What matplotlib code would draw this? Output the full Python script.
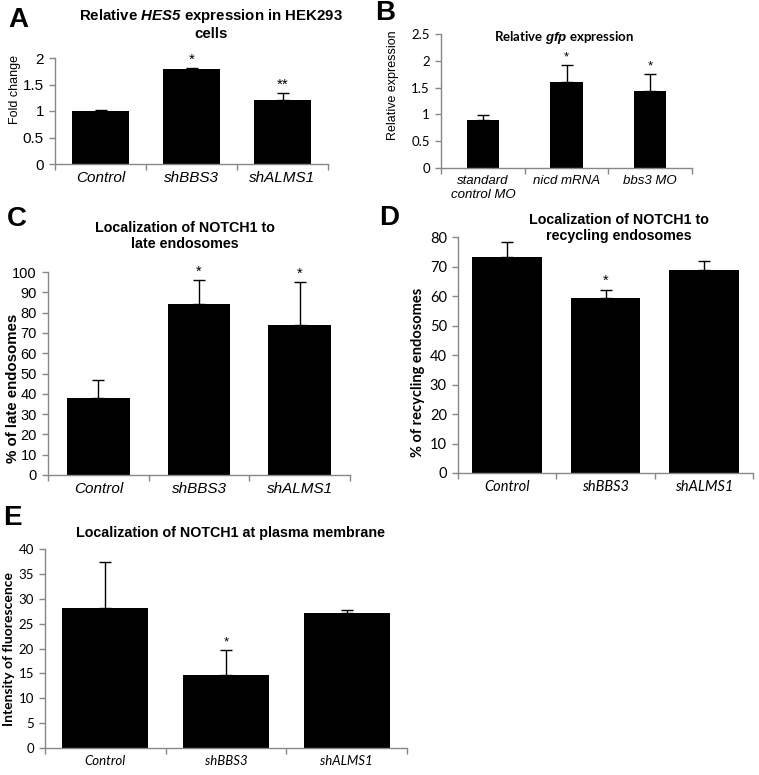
import matplotlib
matplotlib.use('Agg')
import matplotlib.pyplot as plt
from matplotlib.ticker import FormatStrFormatter

W, H = 759, 775

# data
groups_sh = ['Control', 'shBBS3', 'shALMS1']
groups_mo = ['standard\ncontrol MO', 'nicd mRNA', 'bbs3 MO']

hes5_mean = [1.00, 1.80, 1.21]
hes5_err = [0.01, 0.01, 0.13]
hes5_sig = ['', '*', '**']

gfp_mean = [0.90, 1.60, 1.44]
gfp_err = [0.08, 0.33, 0.31]
gfp_sig = ['', '*', '*']

late_mean = [38.0, 84.0, 74.0]
late_err = [9.0, 12.2, 21.0]
late_sig = ['', '*', '*']

recyc_mean = [73.2, 59.2, 68.9]
recyc_err = [5.1, 3.0, 2.8]
recyc_sig = ['', '*', '']

pm_mean = [28.2, 14.6, 27.2]
pm_err = [9.1, 5.1, 0.5]
pm_sig = ['', '*', '']

plt.rcParams['mathtext.fontset'] = 'custom'
plt.rcParams['mathtext.rm'] = 'Liberation Sans'
plt.rcParams['mathtext.it'] = 'Liberation Sans:italic'
plt.rcParams['mathtext.bf'] = 'Liberation Sans:bold'
plt.rcParams['mathtext.bfit'] = 'Liberation Sans:bold:italic'

ARIAL = 'Liberation Sans'
CALI = 'Lato'
GRAY = '#878787'

fig = plt.figure(figsize=(W / 100, H / 100), dpi=100)


def ftext(x, y, s, **kw):
    fig.text(x / W, 1 - y / H, s, **kw)


def panel(box, labels, mean, err, sig, ymax, ystep, width,
          tfont, tsize, xfont, xsize):
    x0, yt, x1, yb = box
    ax = fig.add_axes([x0 / W, 1 - yb / H, (x1 - x0) / W, (yb - yt) / H])
    xs = range(len(mean))
    ax.bar(xs, mean, width=width, color='black', zorder=2)
    ax.errorbar(xs, mean, yerr=[[0] * len(err), err], fmt='none',
                ecolor='black', elinewidth=1, capsize=4, capthick=1, zorder=3)
    for i, s in enumerate(sig):
        if s:
            ax.annotate(s, (i, mean[i] + err[i]), xytext=(0, 1),
                        textcoords='offset points', ha='center', va='bottom',
                        fontsize=tsize, family=ARIAL)
    ax.set_xlim(-0.5, len(mean) - 0.5)
    ax.set_ylim(0, ymax)
    yt_vals = [i * ystep for i in range(int(round(ymax / ystep)) + 1)]
    ax.set_yticks(yt_vals)
    ax.yaxis.set_major_formatter(FormatStrFormatter('%g'))
    ax.set_xticks([i - 0.5 for i in range(len(mean) + 1)])
    ax.set_xticklabels([])
    ax.set_xticks(list(xs), minor=True)
    ax.set_xticklabels(labels, minor=True, family=xfont, style='italic',
                       fontsize=xsize)
    ax.tick_params(axis='x', which='minor', length=0, pad=5)
    ax.tick_params(axis='x', which='major', length=4, color=GRAY, width=1)
    ax.tick_params(axis='y', length=4, color=GRAY, width=1, pad=4,
                   labelsize=tsize)
    for t in ax.get_yticklabels():
        t.set_family(tfont)
    for sp in ['top', 'right']:
        ax.spines[sp].set_visible(False)
    for sp in ['left', 'bottom']:
        ax.spines[sp].set_color(GRAY)
        ax.spines[sp].set_linewidth(1)
    return ax


# A
panel((55, 58, 328, 164), groups_sh, hes5_mean, hes5_err, hes5_sig,
      2, 0.5, 0.62, ARIAL, 11, ARIAL, 11)
ftext(211, 24, 'Relative $\\mathbfit{HES5}$ expression in HEK293\ncells',
      ha='center', va='center', family=ARIAL, weight='bold', fontsize=10.8,
      linespacing=1.2)
ftext(15, 89, 'Fold change', rotation=90, ha='center', va='center',
      family=ARIAL, fontsize=9)

# B
panel((441, 34, 692, 168), groups_mo, gfp_mean, gfp_err, gfp_sig,
      2.5, 0.5, 0.39, CALI, 9.5, ARIAL, 9.5)
ftext(564, 37, 'Relative $\\mathbfit{gfp}$ expression', ha='center',
      va='center', family=CALI, weight='bold', fontsize=9.5)
ftext(393, 85, 'Relative expression', rotation=90, ha='center', va='center',
      family=ARIAL, fontsize=9)

# C
panel((48, 272, 350, 475), groups_sh, late_mean, late_err, late_sig,
      100, 10, 0.62, ARIAL, 10.5, ARIAL, 11)
ftext(185, 236, 'Localization of NOTCH1 to\nlate endosomes', ha='center',
      va='center', family=ARIAL, weight='bold', fontsize=10.3,
      linespacing=1.2)
ftext(13, 388, '% of late endosomes', rotation=90, ha='center', va='center',
      family=ARIAL, weight='bold', fontsize=10.8)

# D
panel((458, 237, 753, 473), groups_sh, recyc_mean, recyc_err, recyc_sig,
      80, 10, 0.71, CALI, 10.5, CALI, 10.5)
ftext(619, 228, 'Localization of NOTCH1 to\nrecycling endosomes',
      ha='center', va='center', family=ARIAL, weight='bold', fontsize=10.3,
      linespacing=1.2)
ftext(418, 372, '% of recycling endosomes', rotation=90, ha='center',
      va='center', family=CALI, weight='bold', fontsize=10.5)

# E
panel((45, 549, 407, 748), groups_sh, pm_mean, pm_err, pm_sig,
      40, 5, 0.71, CALI, 9.5, CALI, 9.5)
ftext(230, 533, 'Localization of NOTCH1 at plasma membrane', ha='center',
      va='center', family=ARIAL, weight='bold', fontsize=10.3)
ftext(9, 649, 'Intensity of fluorescence', rotation=90, ha='center',
      va='center', family=CALI, weight='bold', fontsize=10)

# panel letters
for s, x, y in [('A', 18, 20), ('B', 385, 13), ('C', 17, 219),
                ('D', 389, 218), ('E', 12, 518)]:
    ftext(x, y, s, ha='center', va='center', family=ARIAL, weight='bold',
          fontsize=20)

fig.savefig('out.png', dpi=100)
